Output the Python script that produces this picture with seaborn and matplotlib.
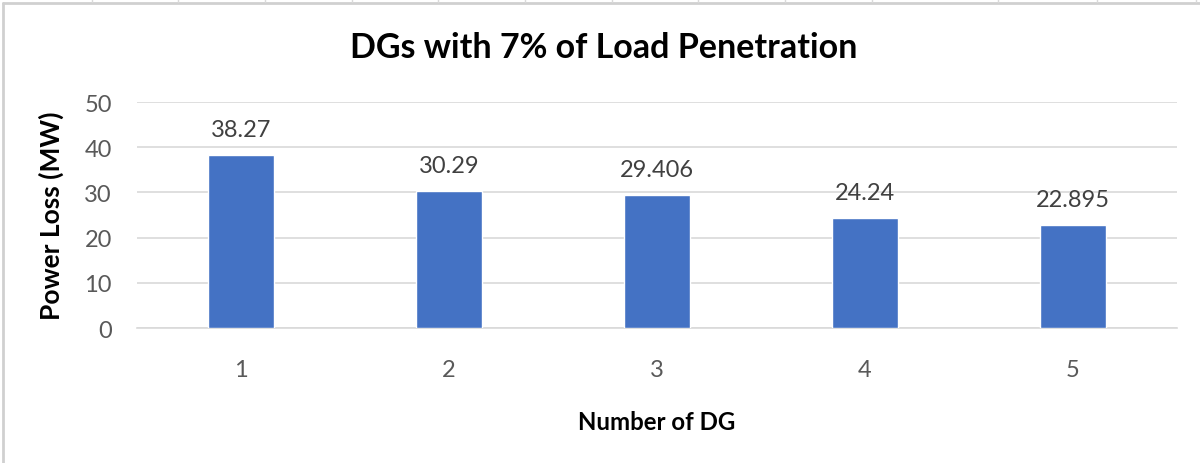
import matplotlib
matplotlib.use("Agg")
import matplotlib.pyplot as plt
import seaborn as sns
import pandas as pd
from matplotlib.lines import Line2D

categories = ["1", "2", "3", "4", "5"]
power_loss = [38.27, 30.29, 29.406, 24.24, 22.895]
value_labels = ["38.27", "30.29", "29.406", "24.24", "22.895"]
y_ticks = [0, 10, 20, 30, 40, 50]

sns.set_theme(style="white")
plt.rcParams["font.family"] = ["Lato", "DejaVu Sans"]

df = pd.DataFrame({"dg": categories, "loss": power_loss})

fig = plt.figure(figsize=(12, 4.64), dpi=100)
ax = fig.add_axes([137 / 1200, 1 - 329 / 464, (1177 - 137) / 1200, (329 - 103) / 464])

sns.barplot(data=df, x="dg", y="loss", color="#4472C4", width=0.317,
            saturation=1, ax=ax, zorder=3)

ax.set_ylim(0, 50)
ax.set_xlim(-0.5, 4.5)
ax.set_yticks(y_ticks)
ax.yaxis.grid(True, color="#D9D9D9", linewidth=1.2, zorder=0)
ax.xaxis.grid(False)
for s in ["top", "right", "left"]:
    ax.spines[s].set_visible(False)
ax.spines["bottom"].set_color("#D9D9D9")
ax.spines["bottom"].set_linewidth(1.2)
ax.tick_params(axis="y", colors="#595959", labelsize=17, length=0, pad=18)
ax.tick_params(axis="x", colors="#595959", labelsize=17, length=0, pad=22)

for i, (v, lab) in enumerate(zip(power_loss, value_labels)):
    ax.text(i, v + 4.2, lab, ha="center", va="baseline", fontsize=17, color="#404040")

ax.set_xlabel("Number of DG", fontsize=17.3, fontweight="bold", color="black", labelpad=22)
ax.set_ylabel("Power Loss (MW)", fontsize=19, fontweight="bold", color="black", labelpad=15)

fig.text(0.503, 1 - 48 / 464, "DGs with 7% of Load Penetration", ha="center", va="center",
         fontsize=24.5, fontweight="bold", color="black")

# chart border (left and top) and spreadsheet cell lines
fig.add_artist(Line2D([3 / 1200, 3 / 1200], [0, 1 - 4 / 464], transform=fig.transFigure,
                      color="#D0D0D0", linewidth=2))
fig.add_artist(Line2D([3 / 1200, 1], [1 - 4 / 464, 1 - 4 / 464], transform=fig.transFigure,
                      color="#D0D0D0", linewidth=2))
for x in [92, 178, 265, 352, 438, 525, 612, 698, 785, 872, 998, 1097, 1196]:
    fig.add_artist(Line2D([x / 1200, x / 1200], [1 - 3 / 464, 1], transform=fig.transFigure,
                          color="#DADADA", linewidth=1))

fig.savefig("out.png", dpi=100)
